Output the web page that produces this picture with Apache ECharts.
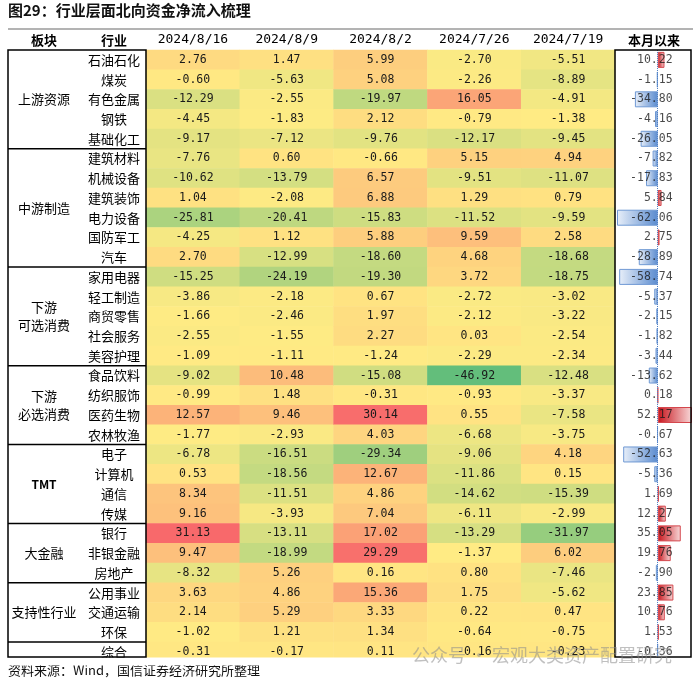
<!DOCTYPE html>
<html>
<head>
<meta charset="utf-8">
<script src="https://cdn.jsdelivr.net/npm/echarts@6/dist/echarts.min.js"></script>
<style>
  html, body { margin: 0; padding: 0; background: #fff; }
  #chart { width: 700px; height: 683px; }
</style>
</head>
<body>
<div id="chart"></div>
<script>
const industries = ['石油石化', '煤炭', '有色金属', '钢铁', '基础化工', '建筑材料', '机械设备', '建筑装饰', '电力设备', '国防军工', '汽车', '家用电器', '轻工制造', '商贸零售', '社会服务', '美容护理', '食品饮料', '纺织服饰', '医药生物', '农林牧渔', '电子', '计算机', '通信', '传媒', '银行', '非银金融', '房地产', '公用事业', '交通运输', '环保', '综合']
const dates = ['2024/8/16', '2024/8/9', '2024/8/2', '2024/7/26', '2024/7/19']
const groupNames = ['上游资源', '中游制造', '下游\n可选消费', '下游\n必选消费', 'TMT', '大金融', '支持性行业', '']
const groupSizes = [5, 6, 5, 4, 4, 3, 3, 1]

const w0816 = [2.76, -0.60, -12.29, -4.45, -9.17, -7.76, -10.62, 1.04, -25.81, -4.25, 2.70, -15.25, -3.86, -1.66, -2.55, -1.09, -9.02, -0.99, 12.57, -1.77, -6.78, 0.53, 8.34, 9.16, 31.13, 9.47, -8.32, 3.63, 2.14, -1.02, -0.31]
const w0809 = [1.47, -5.63, -2.55, -1.83, -7.12, 0.60, -13.79, -2.08, -20.41, 1.12, -12.99, -24.19, -2.18, -2.46, -1.55, -1.11, 10.48, 1.48, 9.46, -2.93, -16.51, -18.56, -11.51, -3.93, -13.11, -18.99, 5.26, 4.86, 5.29, 1.21, -0.17]
const w0802 = [5.99, 5.08, -19.97, 2.12, -9.76, -0.66, 6.57, 6.88, -15.83, 5.88, -18.60, -19.30, 0.67, 1.97, 2.27, -1.24, -15.08, -0.31, 30.14, 4.03, -29.34, 12.67, 4.86, 7.04, 17.02, 29.29, 0.16, 15.36, 3.33, 1.34, 0.11]
const w0726 = [-2.70, -2.26, 16.05, -0.79, -12.17, 5.15, -9.51, 1.29, -11.52, 9.59, 4.68, 3.72, -2.72, -2.12, 0.03, -2.29, -46.92, -0.93, 0.55, -6.68, -9.06, -11.86, -14.62, -6.11, -13.29, -1.37, 0.80, 1.75, 0.22, -0.64, -0.16]
const w0719 = [-5.51, -8.89, -4.91, -1.38, -9.45, 4.94, -11.07, 0.79, -9.59, 2.58, -18.68, -18.75, -3.02, -3.22, -2.54, -2.34, -12.48, -3.37, -7.58, -3.75, 4.18, 0.15, -15.39, -2.99, -31.97, 6.02, -7.46, -5.62, 0.47, -0.75, -0.23]
const monthToDate = [10.22, -1.15, -34.80, -4.16, -26.05, -7.82, -17.83, 5.84, -62.06, 2.75, -28.89, -58.74, -5.37, -2.15, -1.82, -3.44, -13.62, 0.18, 52.17, -0.67, -52.63, -5.36, 1.69, 12.27, 35.05, 19.76, -2.90, 23.85, 10.76, 1.53, -0.36]

// layout
const TOP = 50
const ROW_H = 19.73
const N = industries.length
const BOX_L = 8, IND_R = 146, HEAT_R = 615, BAR_L = 617, BAR_R = 692
const CUT_Y = 657
const CJK = '"Noto Sans CJK SC", sans-serif'
const MONO = '"DejaVu Sans Mono", monospace'

// excel-like 3 colour scale: green - yellow (median) - red
const weekCols = [w0816, w0809, w0802, w0726, w0719]
const allVals = weekCols.flat().slice().sort((a, b) => a - b)
const vMin = allVals[0], vMax = allVals[allVals.length - 1]
const vMid = allVals[Math.floor(allVals.length / 2)]
const GREEN = [99, 190, 123], YELLOW = [255, 235, 132], RED = [248, 105, 107]

function mix(a, b, t) {
  return 'rgb(' + a.map((c, i) => Math.round(c + (b[i] - c) * t)).join(',') + ')'
}
function heatColor(v) {
  if (v <= vMid) return mix(YELLOW, GREEN, (vMid - v) / (vMid - vMin))
  return mix(YELLOW, RED, (v - vMid) / (vMax - vMid))
}

const heatData = []
weekCols.forEach((col, x) => {
  col.forEach((v, y) => heatData.push({ value: [x, y, v], itemStyle: { color: heatColor(v) } }))
})

const barData = monthToDate.map((v) => ({
  value: v,
  itemStyle: v < 0
    ? {
        color: new echarts.graphic.LinearGradient(0, 0, 1, 0, [
          { offset: 0, color: '#e8eff9' }, { offset: 1, color: '#5a8bcf' },
        ]),
        borderColor: '#6f99d4', borderWidth: 1,
      }
    : {
        color: new echarts.graphic.LinearGradient(0, 0, 1, 0, [
          { offset: 0, color: '#c8141c' }, { offset: 1, color: '#f8dada' },
        ]),
        borderColor: '#d4474d', borderWidth: 1,
      },
}))

function splitNum(v) {
  const s = v.toFixed(2)
  const k = s.indexOf('.')
  return [s.slice(0, k + 1), s.slice(k + 1)]
}

// decorations: title, headers, group labels, table borders
const graphics = [
  { type: 'text', left: 8, top: 3, style: { text: '图29：行业层面北向资金净流入梳理', font: 'bold 15px ' + CJK, fill: '#111' } },
  { type: 'line', shape: { x1: BOX_L, y1: 29, x2: 693, y2: 29 }, style: { stroke: '#9a9a9a', lineWidth: 1.5 } },
  { type: 'text', x: 44, y: 40, style: { text: '板块', font: 'bold 13px ' + CJK, fill: '#000', align: 'center', verticalAlign: 'middle' } },
  { type: 'text', x: 114, y: 40, style: { text: '行业', font: 'bold 13px ' + CJK, fill: '#000', align: 'center', verticalAlign: 'middle' } },
  { type: 'text', x: 654, y: 40, style: { text: '本月以来', font: 'bold 13px ' + CJK, fill: '#000', align: 'center', verticalAlign: 'middle' } },
  { type: 'rect', z: 100, shape: { x: 0, y: CUT_Y + 0.5, width: 700, height: 8 }, style: { fill: '#fff' } },
  { type: 'rect', z: 101, shape: { x: BOX_L, y: TOP, width: IND_R - BOX_L, height: CUT_Y - TOP }, style: { fill: 'none', stroke: '#000', lineWidth: 1.5 } },
  { type: 'rect', z: 101, shape: { x: HEAT_R, y: TOP, width: BAR_R - HEAT_R - 1, height: CUT_Y - TOP }, style: { fill: 'none', stroke: '#000', lineWidth: 1.5 } },
  { type: 'text', left: 8, top: 664, style: { text: '资料来源：Wind，国信证券经济研究所整理', font: '13px ' + CJK, fill: '#111' } },
  { type: 'text', z: 102, x: 412, y: 655, style: { text: '公众号 · 宏观大类资产配置研究', font: '18px ' + CJK, fill: 'rgba(140,140,140,0.55)', verticalAlign: 'middle' } },
]
let row = 0
groupNames.forEach((name, g) => {
  const y0 = TOP + row * ROW_H
  row += groupSizes[g]
  const y1 = TOP + row * ROW_H
  if (name) {
    const isTmt = name === 'TMT'
    graphics.push({
      type: 'text', x: 44, y: (y0 + y1) / 2,
      style: {
        text: name, font: (isTmt ? 'bold 12px ' : '13px ') + CJK, fill: '#000',
        align: 'center', verticalAlign: 'middle', lineHeight: 18,
      },
    })
  }
  if (g < groupNames.length - 1) {
    graphics.push({ type: 'line', z: 101, shape: { x1: BOX_L, y1: y1, x2: IND_R, y2: y1 }, style: { stroke: '#000', lineWidth: 1.5 } })
  }
})

const chart = echarts.init(document.getElementById('chart'), null, { renderer: 'canvas' })
chart.setOption({
  animation: false,
  backgroundColor: '#fff',
  grid: [
    { left: IND_R, width: HEAT_R - IND_R, top: TOP, height: ROW_H * N, outerBoundsMode: 'none' },
    { left: BAR_L, width: BAR_R - BAR_L, top: TOP, height: ROW_H * N, outerBoundsMode: 'none' },
  ],
  xAxis: [
    {
      gridIndex: 0, type: 'category', data: dates, position: 'top',
      axisLine: { show: false }, axisTick: { show: false }, splitLine: { show: false },
      axisLabel: { margin: 4, fontFamily: MONO, fontSize: 13, color: '#000' },
    },
    {
      gridIndex: 1, type: 'value',
      min: (e) => e.min, max: (e) => e.max,
      axisLine: { show: false }, axisTick: { show: false }, splitLine: { show: false }, axisLabel: { show: false },
    },
  ],
  yAxis: [
    {
      gridIndex: 0, type: 'category', data: industries, inverse: true,
      axisLine: { show: false }, axisTick: { show: false }, splitLine: { show: false },
      axisLabel: { align: 'center', margin: 32, fontFamily: CJK, fontSize: 13, color: '#000' },
    },
    {
      gridIndex: 1, type: 'category', data: industries, inverse: true,
      axisLine: { show: false }, axisTick: { show: false }, splitLine: { show: false }, axisLabel: { show: false },
    },
  ],
  series: [
    {
      type: 'heatmap', xAxisIndex: 0, yAxisIndex: 0, data: heatData,
      itemStyle: { borderWidth: 0 },
      label: {
        show: true, formatter: (p) => p.value[2].toFixed(2),
        fontFamily: MONO, fontSize: 11.5, color: '#1a1a1a',
      },
      emphasis: { disabled: true },
    },
    {
      type: 'bar', xAxisIndex: 1, yAxisIndex: 1, data: barData, barWidth: 16,
      silent: true,
      markLine: {
        silent: true, symbol: ['none', 'none'], label: { show: false },
        lineStyle: { type: 'dotted', color: '#4f7fc4', width: 1 },
        data: [{ xAxis: 0 }],
      },
    },
    {
      type: 'scatter', xAxisIndex: 1, yAxisIndex: 1, symbolSize: 0, silent: true, z: 5,
      data: monthToDate.map((v, i) => [0, i]),
      label: {
        show: true, position: 'left', distance: 0,
        formatter: (p) => splitNum(monthToDate[p.dataIndex])[0],
        fontFamily: MONO, fontSize: 11.5, color: '#1a1a1a',
      },
    },
    {
      type: 'scatter', xAxisIndex: 1, yAxisIndex: 1, symbolSize: 0, silent: true, z: 5,
      data: monthToDate.map((v, i) => [0, i]),
      label: {
        show: true, position: 'right', distance: 1,
        formatter: (p) => splitNum(monthToDate[p.dataIndex])[1],
        fontFamily: MONO, fontSize: 11.5, color: '#1a1a1a',
      },
    },
  ],
  graphic: graphics,
})
</script>
</body>
</html>
